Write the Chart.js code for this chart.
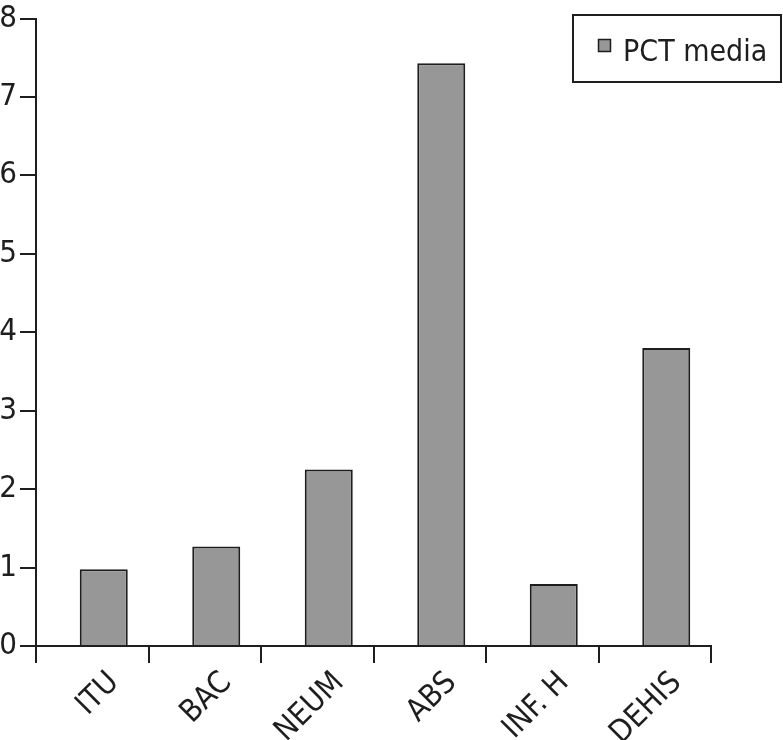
<!DOCTYPE html>
<html><head><meta charset="utf-8">
<script src="https://cdn.jsdelivr.net/npm/chart.js@4"></script>
<style>html,body{margin:0;padding:0;background:#fff}canvas{display:block}</style>
</head><body>
<canvas id="c" width="783" height="740"></canvas>
<script>
const categories = ['ITU', 'BAC', 'NEUM', 'ABS', 'INF. H', 'DEHIS'];
const pctMedia = [0.98, 1.27, 2.25, 7.43, 0.79, 3.80];
const spacer = [null, null, null, null, null, null];
const yTicks = [0, 1, 2, 3, 4, 5, 6, 7, 8];
const seriesLabel = 'PCT media';

const FONT = "'Liberation Sans Narrow','DejaVu Sans Condensed','Arial Narrow',sans-serif";
const ink = '#1e1e1e';
const fill = '#979797';

const legendBox = {
  id: 'legendBox',
  afterDraw(chart) {
    const ctx = chart.ctx;
    const ds = chart.data.datasets[1];
    ctx.save();
    ctx.lineWidth = 2;
    ctx.strokeStyle = ink;
    ctx.strokeRect(573, 15, 208, 67);
    ctx.fillStyle = ds.backgroundColor;
    ctx.fillRect(598, 39, 13, 13);
    ctx.lineWidth = 1.5;
    ctx.strokeRect(598.5, 39.5, 12, 12);
    ctx.font = '30px ' + FONT;
    ctx.fillStyle = ink;
    ctx.textBaseline = 'alphabetic';
    ctx.textAlign = 'left';
    ctx.fillText(ds.label, 623, 61);
    ctx.restore();
  }
};

new Chart(document.getElementById('c'), {
  type: 'bar',
  data: {
    labels: categories,
    datasets: [
      { label: '', data: spacer, backgroundColor: 'rgba(0,0,0,0)', categoryPercentage: 0.409, barPercentage: 2.087 },
      { label: seriesLabel, data: pctMedia, backgroundColor: fill, borderColor: ink, borderWidth: 2,
        categoryPercentage: 0.409, barPercentage: 2.087 }
    ]
  },
  options: {
    responsive: false,
    animation: false,
    devicePixelRatio: 1,
    layout: { padding: { left: 0, right: 72, top: 0, bottom: 0 } },
    plugins: { legend: { display: false }, tooltip: { enabled: false } },
    scales: {
      x: {
        afterFit: s => { s.height = 94; },
        grid: { display: true, drawOnChartArea: false, drawTicks: true, tickLength: 17, color: ink, lineWidth: 2, offset: true },
        border: { display: true, color: ink, width: 2 },
        ticks: { font: { family: FONT, size: 31, lineHeight: 1.0 }, color: ink, maxRotation: 45, minRotation: 45, labelOffset: 22, padding: 4 }
      },
      y: {
        min: 0, max: 8,
        afterFit: s => { s.width = 36; },
        afterBuildTicks: s => { s.ticks = yTicks.map(v => ({ value: v })); },
        grid: { display: true, drawOnChartArea: false, drawTicks: true, tickLength: 16, color: ink, lineWidth: 2 },
        border: { display: true, color: ink, width: 2 },
        ticks: { font: { family: FONT, size: 31, lineHeight: 1.0 }, color: ink, padding: 3 }
      }
    }
  },
  plugins: [legendBox]
});
</script>
</body></html>
